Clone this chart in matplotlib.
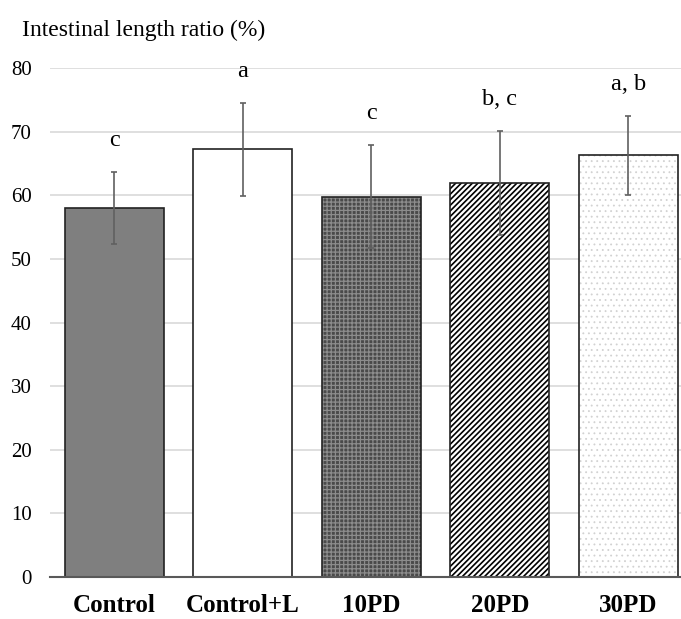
import matplotlib
matplotlib.use("Agg")
import matplotlib.pyplot as plt

categories = ["Control", "Control+L", "10PD", "20PD", "30PD"]
means = [58.0, 67.2, 59.8, 61.9, 66.3]
errors = [5.6, 7.3, 8.1, 8.2, 6.2]
letters = ["c", "a", "c", "b, c", "a, b"]
yticks = [0, 10, 20, 30, 40, 50, 60, 70, 80]

faces = ["#7f7f7f", "white", "#4a4a4a", "white", "white"]
hatches = [None, None, "++++", "//////", "..."]
hatch_colors = [None, None, "#8c8c8c", "black", "#d2d2d2"]
hatch_lws = [0, 0, 0.9, 1.2, 0.6]

plt.rcParams["font.family"] = ["Liberation Serif", "DejaVu Serif"]

fig = plt.figure(figsize=(6.81, 6.19), dpi=100)
W, H = 681, 619
ax = fig.add_axes([50 / W, 42 / H, (681 - 50) / W, (577 - 68) / H])
ax.set_xlim(-0.5, 4.41)
ax.set_ylim(0, 80)

x = list(range(len(categories)))
bw = 0.77
for i in x:
    if hatches[i]:
        plt.rcParams["hatch.linewidth"] = hatch_lws[i]
        ax.bar(i, means[i], width=bw, color=faces[i], hatch=hatches[i],
               edgecolor=hatch_colors[i], linewidth=0, zorder=2)
    else:
        ax.bar(i, means[i], width=bw, color=faces[i], linewidth=0, zorder=2)
    ax.bar(i, means[i], width=bw, fill=False, edgecolor="#222222",
           linewidth=1.2, zorder=3)

ax.errorbar(x, means, yerr=errors, fmt="none", ecolor="#606060",
            elinewidth=1.2, capsize=2.5, capthick=1.2, zorder=4)

for i in x:
    ax.text(i, means[i] + errors[i] + 3.3, letters[i], ha="center",
            va="bottom", fontsize=17.5, color="black")

ax.set_yticks(yticks)
ax.set_yticklabels([str(v) for v in yticks], fontsize=15)
ax.set_xticks(x)
ax.set_xticklabels(categories, fontsize=18, fontweight="bold")
ax.tick_params(axis="y", length=0, pad=13)
ax.tick_params(axis="x", length=0, pad=12)
ax.yaxis.grid(True, color="#d9d9d9", linewidth=1.2, zorder=0)
ax.set_axisbelow(True)
for s in ["left", "right", "top"]:
    ax.spines[s].set_visible(False)
ax.spines["bottom"].set_color("#595959")
ax.spines["bottom"].set_linewidth(1.5)
ax.spines["bottom"].set_zorder(5)

fig.text(22 / W, 1 - 30 / H, "Intestinal length ratio (%)", fontsize=17,
         ha="left", va="center")

fig.savefig("out.png", dpi=100)
